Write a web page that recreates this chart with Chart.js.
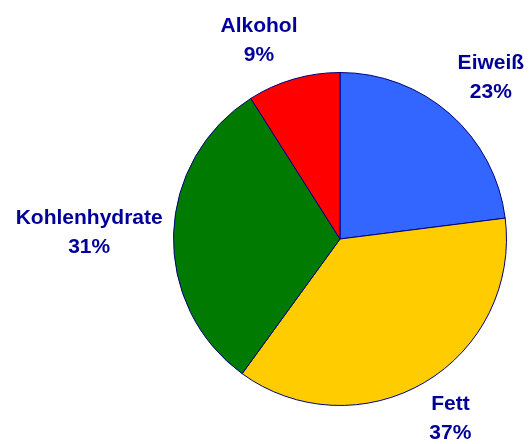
<!DOCTYPE html>
<html>
<head>
<meta charset="utf-8">
<script src="https://cdn.jsdelivr.net/npm/chart.js@4/dist/chart.umd.min.js"></script>
<style>
html,body{margin:0;padding:0;background:#fff;}
#wrap{width:531px;height:444px;position:relative;}
</style>
</head>
<body>
<div id="wrap"><canvas id="c" width="531" height="444"></canvas></div>
<script>
const categories = ["Eiweiß", "Fett", "Kohlenhydrate", "Alkohol"];
const values = [23, 37, 31, 9];
const percentLabels = ["23%", "37%", "31%", "9%"];
const colors = ["#3366FF", "#FFCC00", "#007A00", "#FF0000"];

const labelPlugin = {
  id: 'outerLabels',
  afterDatasetsDraw(chart, args, opts) {
    const ctx = chart.ctx;
    const meta = chart.getDatasetMeta(0);
    ctx.save();
    ctx.font = 'bold 21px "Liberation Sans", Arial, sans-serif';
    ctx.fillStyle = '#000099';
    ctx.textAlign = 'center';
    ctx.textBaseline = 'middle';
    const lineH = 29;
    meta.data.forEach((arc, i) => {
      const p = arc.getProps(['x','y','startAngle','endAngle','outerRadius'], true);
      const mid = (p.startAngle + p.endAngle) / 2;
      const lines = [categories[i], percentLabels[i]];
      const w = Math.max(...lines.map(t => ctx.measureText(t).width));
      const h = lineH * lines.length;
      const d = p.outerRadius + opts.gap;
      const cx = p.x + Math.cos(mid) * (d + w / 2 * Math.abs(Math.cos(mid))) + (opts.nudgeX[i] || 0);
      const cy = p.y + Math.sin(mid) * (d + h / 2 * Math.abs(Math.sin(mid))) + (opts.nudgeY[i] || 0);
      lines.forEach((t, k) => {
        ctx.fillText(t, cx, cy + (k - (lines.length - 1) / 2) * lineH);
      });
    });
    ctx.restore();
  }
};

new Chart(document.getElementById('c'), {
  type: 'pie',
  data: {
    labels: categories,
    datasets: [{
      data: values,
      backgroundColor: colors,
      borderColor: '#000080',
      borderWidth: 1
    }]
  },
  options: {
    responsive: false,
    animation: false,
    layout: { padding: { left: 173, right: 24, top: 72, bottom: 38 } },
    plugins: {
      legend: { display: false },
      tooltip: { enabled: false },
      outerLabels: { gap: 20, nudgeX: [13, 10, 9, -26], nudgeY: [-5, -2, 0, 8] }
    }
  },
  plugins: [labelPlugin]
});
</script>
</body>
</html>
